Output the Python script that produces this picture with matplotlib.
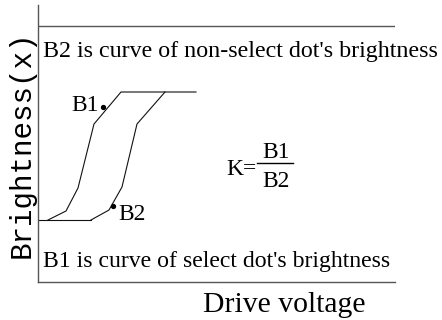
import matplotlib
matplotlib.use("Agg")
import matplotlib.pyplot as plt

# ---- data (arbitrary units: drive voltage vs brightness) ----
base_x = [0, 53]
base_y = [62, 62]
b1_x = [10, 28, 40, 56, 83, 158]
b1_y = [62, 71, 94, 158, 190, 190]
b2_x = [53, 71, 84, 99, 127]
b2_y = [62, 72, 95, 158, 190]
b1_dot = (65, 175)
b2_dot = (75, 76)
top_level = 256

xlabel = "Drive voltage"
ylabel = "Brightness(x)"
note_b2 = "B2 is curve of non-select dot's brightness"
note_b1 = "B1 is curve of select dot's brightness"

W, H = 442, 320
fig = plt.figure(figsize=(W / 100, H / 100), dpi=100)
ax = fig.add_axes([38 / W, (H - 282) / H, (395 - 38) / W, (282 - 5) / H])
ax.set_xlim(0, 357)
ax.set_ylim(0, 277)
for s in ("top", "right"):
    ax.spines[s].set_visible(False)
for s in ("left", "bottom"):
    ax.spines[s].set_color("#555555")
    ax.spines[s].set_linewidth(1.0)
ax.set_xticks([])
ax.set_yticks([])
ax.patch.set_alpha(0)

ax.axhline(top_level, color="#555555", lw=1.0)

lc = "#111111"
ax.plot(base_x, base_y, color=lc, lw=0.8)
ax.plot(b1_x, b1_y, color=lc, lw=0.8)
ax.plot(b2_x, b2_y, color=lc, lw=0.8)
ax.plot(*b1_dot, "o", color="black", ms=2.8)
ax.plot(*b2_dot, "o", color="black", ms=2.8)

serif = "Liberation Serif"
renderer = fig.canvas.get_renderer()


def fit(t, target, dim="width"):
    for _ in range(3):
        ext = t.get_window_extent(renderer=renderer)
        cur = ext.width if dim == "width" else ext.height
        t.set_fontsize(t.get_fontsize() * target / cur)
    return t


t1 = ax.text(5, 15, note_b1, family=serif, fontsize=14, va="baseline", ha="left")
fit(t1, 347)
t2 = ax.text(5, 225, note_b2, family=serif, fontsize=14, va="baseline", ha="left")
fit(t2, 395)

tx = ax.text(165, -30, xlabel, family=serif, fontsize=16, va="baseline", ha="left")
fit(tx, 162)

ty = ax.text(-16, 138, ylabel, family="Liberation Mono", fontsize=16,
             rotation=90, va="center", ha="center")
fit(ty, 228, dim="height")

lab = dict(family=serif, fontsize=17, va="baseline")
ax.text(33, 171, "B1", ha="left", **lab)
ax.text(80, 62, "B2", ha="left", **lab)

# K = B1 / B2
ax.text(188, 107, "K=", ha="left", **lab)
ax.plot([219, 255], [118.7, 118.7], color="black", lw=1.0)
ax.text(238, 124, "B1", ha="center", **lab)
ax.text(238, 95, "B2", ha="center", **lab)

fig.savefig("out.png", dpi=100)
